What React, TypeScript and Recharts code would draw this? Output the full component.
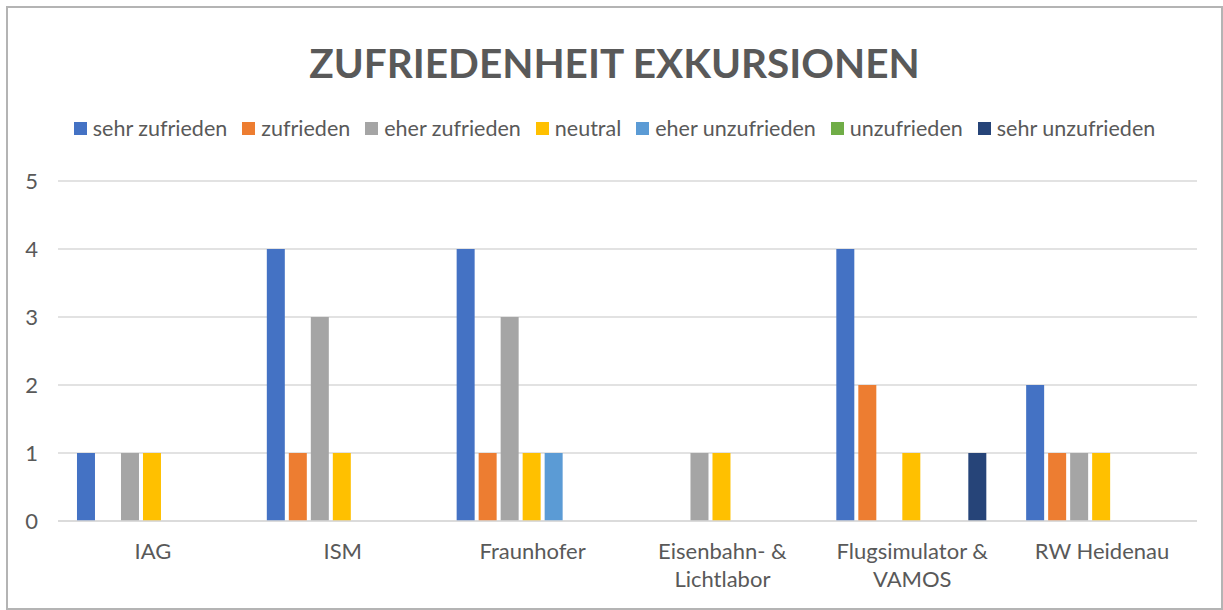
import { BarChart, Bar, XAxis, YAxis, CartesianGrid, Legend } from 'recharts';

const categories = [
  'IAG',
  'ISM',
  'Fraunhofer',
  'Eisenbahn- & Lichtlabor',
  'Flugsimulator & VAMOS',
  'RW Heidenau',
];

const seriesNames = [
  'sehr zufrieden',
  'zufrieden',
  'eher zufrieden',
  'neutral',
  'eher unzufrieden',
  'unzufrieden',
  'sehr unzufrieden',
];

const sehrZufrieden = [1, 4, 4, 0, 4, 2];
const zufrieden = [0, 1, 1, 0, 2, 1];
const eherZufrieden = [1, 3, 3, 1, 0, 1];
const neutral = [1, 1, 1, 1, 1, 1];
const eherUnzufrieden = [0, 0, 1, 0, 0, 0];
const unzufrieden = [0, 0, 0, 0, 0, 0];
const sehrUnzufrieden = [0, 0, 0, 0, 1, 0];

const yTicks = [0, 1, 2, 3, 4, 5];

const colors = ['#4472C4', '#ED7D31', '#A5A5A5', '#FFC000', '#5B9BD5', '#70AD47', '#264478'];

const seriesValues = [
  sehrZufrieden,
  zufrieden,
  eherZufrieden,
  neutral,
  eherUnzufrieden,
  unzufrieden,
  sehrUnzufrieden,
];

const data = categories.map((name, i) => {
  const row: Record<string, string | number> = { name };
  seriesNames.forEach((s, j) => {
    row[s] = seriesValues[j][i];
  });
  return row;
});

const FONT = 'Lato, "Open Sans", sans-serif';
const TEXT = '#595959';

// break long labels after the "&", like the original wraps them
function CategoryTick(props: any) {
  const { x, y, payload } = props;
  const label: string = payload.value;
  const cut = label.indexOf('& ');
  const lines = cut >= 0 ? [label.slice(0, cut + 1), label.slice(cut + 2)] : [label];
  return (
    <text x={x} y={y} textAnchor="middle" fill={TEXT} fontSize={22} fontFamily={FONT}>
      {lines.map((l, i) => (
        <tspan key={i} x={x} dy={i === 0 ? 30 : 28}>
          {l}
        </tspan>
      ))}
    </text>
  );
}

function LegendContent() {
  return (
    <div
      style={{
        display: 'flex',
        justifyContent: 'center',
        gap: 15,
        fontFamily: FONT,
        fontSize: 21.5,
        color: TEXT,
        whiteSpace: 'nowrap',
        lineHeight: '24px',
      }}
    >
      {seriesNames.map((s, i) => (
        <span key={s} style={{ display: 'flex', alignItems: 'center' }}>
          <span style={{ width: 13, height: 13, background: colors[i], marginRight: 6, display: 'inline-block' }} />
          {s}
        </span>
      ))}
    </div>
  );
}

export default function App() {
  return (
    <div
      style={{
        position: 'absolute',
        left: 6,
        top: 6,
        width: 1213,
        height: 600,
        border: '2px solid #b4b4b4',
        background: '#fff',
      }}
    >
      <div
        style={{
          position: 'absolute',
          top: 31,
          left: 0,
          width: '100%',
          textAlign: 'center',
          fontFamily: FONT,
          fontWeight: 700,
          fontSize: 40.5,
          color: TEXT,
          lineHeight: '48px',
        }}
      >
        ZUFRIEDENHEIT EXKURSIONEN
      </div>
      <BarChart
        width={1213}
        height={600}
        data={data}
        margin={{ top: 149, right: 24, bottom: 17, left: 20 }}
        barCategoryGap="10%"
        barGap={4}
      >
        <CartesianGrid vertical={false} stroke="#d9d9d9" strokeWidth={1.3} />
        <XAxis
          dataKey="name"
          axisLine={{ stroke: '#d9d9d9', strokeWidth: 1.3 }}
          tickLine={false}
          height={70}
          interval={0}
          tick={<CategoryTick />}
        />
        <YAxis
          domain={[0, 5]}
          ticks={yTicks}
          width={30}
          axisLine={false}
          tickLine={false}
          tickMargin={14}
          tick={{ fill: TEXT, fontSize: 22, fontFamily: FONT }}
        />
        <Legend
          verticalAlign="top"
          content={<LegendContent />}
          wrapperStyle={{ top: 108, left: 0, width: 1213 }}
        />
        {seriesNames.map((s, i) => (
          <Bar key={s} dataKey={s} fill={colors[i]} isAnimationActive={false} />
        ))}
      </BarChart>
    </div>
  );
}
